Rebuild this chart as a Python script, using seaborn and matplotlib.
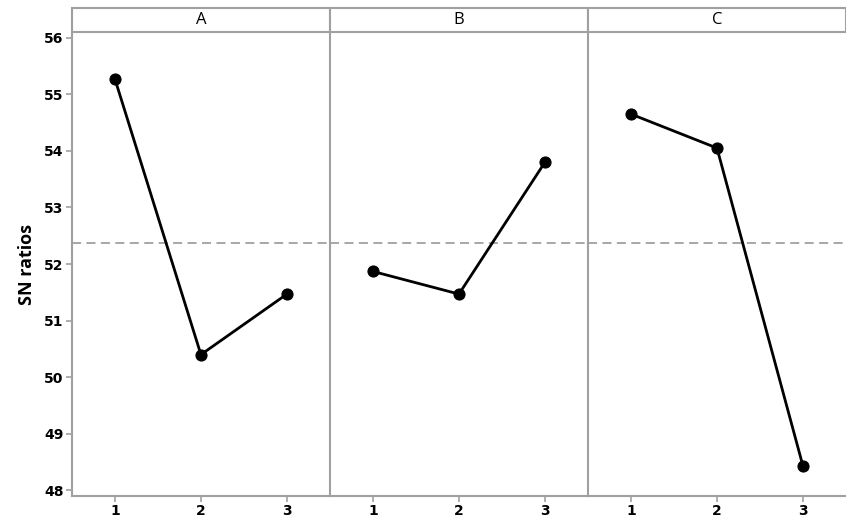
#!/usr/bin/env python3
"""
Main effects plot for SN ratios (factors A, B, C)
"""

import pandas as pd
import matplotlib.pyplot as plt
import seaborn as sns
from matplotlib.patches import Rectangle

# data
factors = ['A', 'B', 'C']
levels = [1, 2, 3]
sn_a = [55.27, 50.40, 51.47]
sn_b = [51.87, 51.47, 53.80]
sn_c = [54.65, 54.05, 48.43]
y_ticks = [48, 49, 50, 51, 52, 53, 54, 55, 56]

rows = []
for name, vals in zip(factors, [sn_a, sn_b, sn_c]):
    for lvl, v in zip(levels, vals):
        rows.append({'factor': name, 'level': lvl, 'sn': v})
df = pd.DataFrame(rows)
grand_mean = df['sn'].mean()

sns.set_style('white')
plt.rcParams['font.family'] = ['Open Sans', 'DejaVu Sans']
plt.rcParams['text.color'] = 'black'
plt.rcParams['axes.labelcolor'] = 'black'

GRAY = '#a0a0a0'
tick_font = dict(family='DejaVu Sans', fontweight='bold', fontsize=10)

g = sns.FacetGrid(df, col='factor', col_order=factors, sharey=True,
                  height=5.25, aspect=0.55, despine=False)
g.map_dataframe(sns.lineplot, x='level', y='sn', color='black',
                linewidth=2, marker='o', markersize=8,
                markeredgecolor='black')
g.figure.set_size_inches(8.46, 5.25)
g.figure.subplots_adjust(left=0.085, right=1.0, bottom=0.055, top=0.939, wspace=0)

strip_h = 24 / 464
for i, (ax, name) in enumerate(zip(g.axes.flat, factors)):
    ax.set_xlim(0.5, 3.5)
    ax.set_ylim(47.9, 56.1)
    ax.set_xticks(levels)
    ax.set_xticklabels([str(l) for l in levels], **tick_font)
    ax.set_yticks(y_ticks)
    ax.axhline(grand_mean, color=GRAY, linestyle=(0, (5, 3)), linewidth=1.3, zorder=0)
    ax.set_title('')
    ax.set_xlabel('')
    ax.set_ylabel('')
    for side in ['top', 'right']:
        ax.spines[side].set_visible(False)
    ax.spines['left'].set_color(GRAY)
    ax.spines['bottom'].set_color(GRAY)
    ax.spines['left'].set_linewidth(1.5)
    ax.spines['bottom'].set_linewidth(1.5)
    ax.tick_params(axis='both', direction='out', length=4, width=1.2, color=GRAY,
                   pad=2, labelcolor='black', bottom=True, left=True)
    if i == 0:
        ax.set_yticklabels([str(t) for t in y_ticks], **tick_font)
        ax.set_ylabel('SN ratios', fontsize=13, fontweight='bold', labelpad=6,
                      color='black')
    else:
        ax.tick_params(axis='y', left=False, labelleft=False)

    # header strip
    rect = Rectangle((0, 1), 1, strip_h, transform=ax.transAxes, facecolor='white',
                     edgecolor=GRAY, linewidth=1.5, clip_on=False)
    ax.add_patch(rect)
    ax.text(0.5, 1 + strip_h / 2, name, transform=ax.transAxes, ha='center',
            va='center', fontsize=12, color='black')

plt.savefig('out.png', dpi=100)
plt.close()
